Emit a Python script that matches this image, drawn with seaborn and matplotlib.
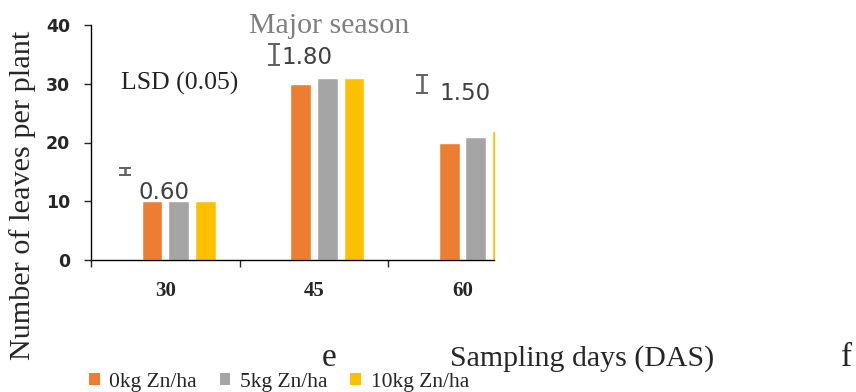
import matplotlib
matplotlib.use("Agg")
import matplotlib.pyplot as plt
import seaborn as sns
import pandas as pd
import numpy as np
from matplotlib.patches import Patch

# ---- data ----
days = ["30", "45", "60"]
series = ["LSD", "0kg Zn/ha", "5kg Zn/ha", "10kg Zn/ha"]
lsd_pos = [15, 35, 30]          # height where the LSD bar is drawn
lsd_err = [0.60, 1.80, 1.50]    # LSD (0.05) values
zn0 = [10, 30, 20]
zn5 = [10, 31, 21]
zn10 = [10, 31, 22]
lsd_labels = ["0.60", "1.80", "1.50"]

colors = {"LSD": "#ffffff", "0kg Zn/ha": "#ED7D31", "5kg Zn/ha": "#A5A5A5", "10kg Zn/ha": "#FFC000"}

rows = []
for vals, s in zip([lsd_pos, zn0, zn5, zn10], series):
    for d, v in zip(days, vals):
        rows.append({"day": d, "series": s, "value": v})
df = pd.DataFrame(rows)

sns.set_style("white")
plt.rcParams["font.family"] = ["DejaVu Sans"]

fig = plt.figure(figsize=(8.56, 3.92), dpi=100)
ax = fig.add_axes([91 / 856, 1 - 260 / 392, 403.5 / 856, 235 / 392])

sns.barplot(data=df, x="day", y="value", hue="series", hue_order=series, order=days,
            palette=colors, width=0.72, gap=0.22, errorbar=None, saturation=1,
            legend=False, ax=ax)

# LSD series: invisible bars with error bars
lsd_container = ax.containers[0]
xs, ys = [], []
for p in lsd_container:
    p.set_visible(False)
    xs.append(p.get_x() + p.get_width() / 2)
    ys.append(p.get_height())
ax.errorbar(xs, ys, yerr=lsd_err, fmt="none", ecolor="#606060", elinewidth=1.8,
            capsize=4, capthick=1.4)

label_offsets = [(28, -14.5), (23.5, -2.5), (31, -7)]  # points
for x, y, t, off in zip(xs, ys, lsd_labels, label_offsets):
    ax.annotate(t, (x, y), xytext=off, textcoords="offset points", ha="center", va="center",
                fontsize=16.5, color="#404040", family="DejaVu Sans")

ax.text(0.094, 30, "LSD (0.05)", ha="center", va="center", fontsize=18.5,
        family="Liberation Serif", color="#222222")

ax.set_xlim(-0.5, 2.215)
ax.set_ylim(0, 40)
ax.set_yticks([0, 10, 20, 30, 40])
ax.set_xlabel("")
ax.set_ylabel("")

fig.text(23 / 856, 1 - 195 / 392, "Number of leaves per plant", rotation=90,
         ha="center", va="center", family="Liberation Serif", fontsize=21.8)

for s in ["top", "right"]:
    ax.spines[s].set_visible(False)
for s in ["left", "bottom"]:
    ax.spines[s].set_color("black")
    ax.spines[s].set_linewidth(1.0)

ax.tick_params(axis="y", left=True, length=5, width=1, pad=10, labelsize=12.5)
for lab in ax.get_yticklabels():
    lab.set_fontweight("bold")
    lab.set_family("DejaVu Sans")

ax.set_xticks([-0.5, 0.5, 1.5], minor=True)
ax.tick_params(axis="x", which="minor", bottom=True, length=5, width=1)
ax.tick_params(axis="x", which="major", bottom=False, length=0, pad=15, labelsize=15)
for lab in ax.get_xticklabels():
    lab.set_fontweight("bold")
    lab.set_family("Liberation Serif")

fig.text(329 / 856, 1 - 33 / 392, "Major season", ha="center", va="baseline",
         fontsize=21.5, family="Liberation Serif", color="#7f7f7f")

fig.text(329 / 856, 1 - 366 / 392, "e", ha="center", va="baseline", fontsize=24,
         family="Liberation Serif")
fig.text(450 / 856, 1 - 366 / 392, "Sampling days (DAS)", ha="left", va="baseline",
         fontsize=21.5, family="Liberation Serif")
fig.text(847 / 856, 1 - 366 / 392, "f", ha="center", va="baseline", fontsize=24,
         family="Liberation Serif")

handles = [Patch(facecolor=colors[s], edgecolor="none", label=s) for s in series[1:]]
leg = fig.legend(handles=handles, loc="center left", bbox_to_anchor=(89 / 856, 1 - 382 / 392),
                 ncol=3, frameon=False, handlelength=0.5, handleheight=0.5,
                 handletextpad=0.45, columnspacing=1.05, borderaxespad=0, borderpad=0,
                 prop={"family": "Liberation Serif", "size": 15.5})

fig.savefig("out.png", dpi=100)
